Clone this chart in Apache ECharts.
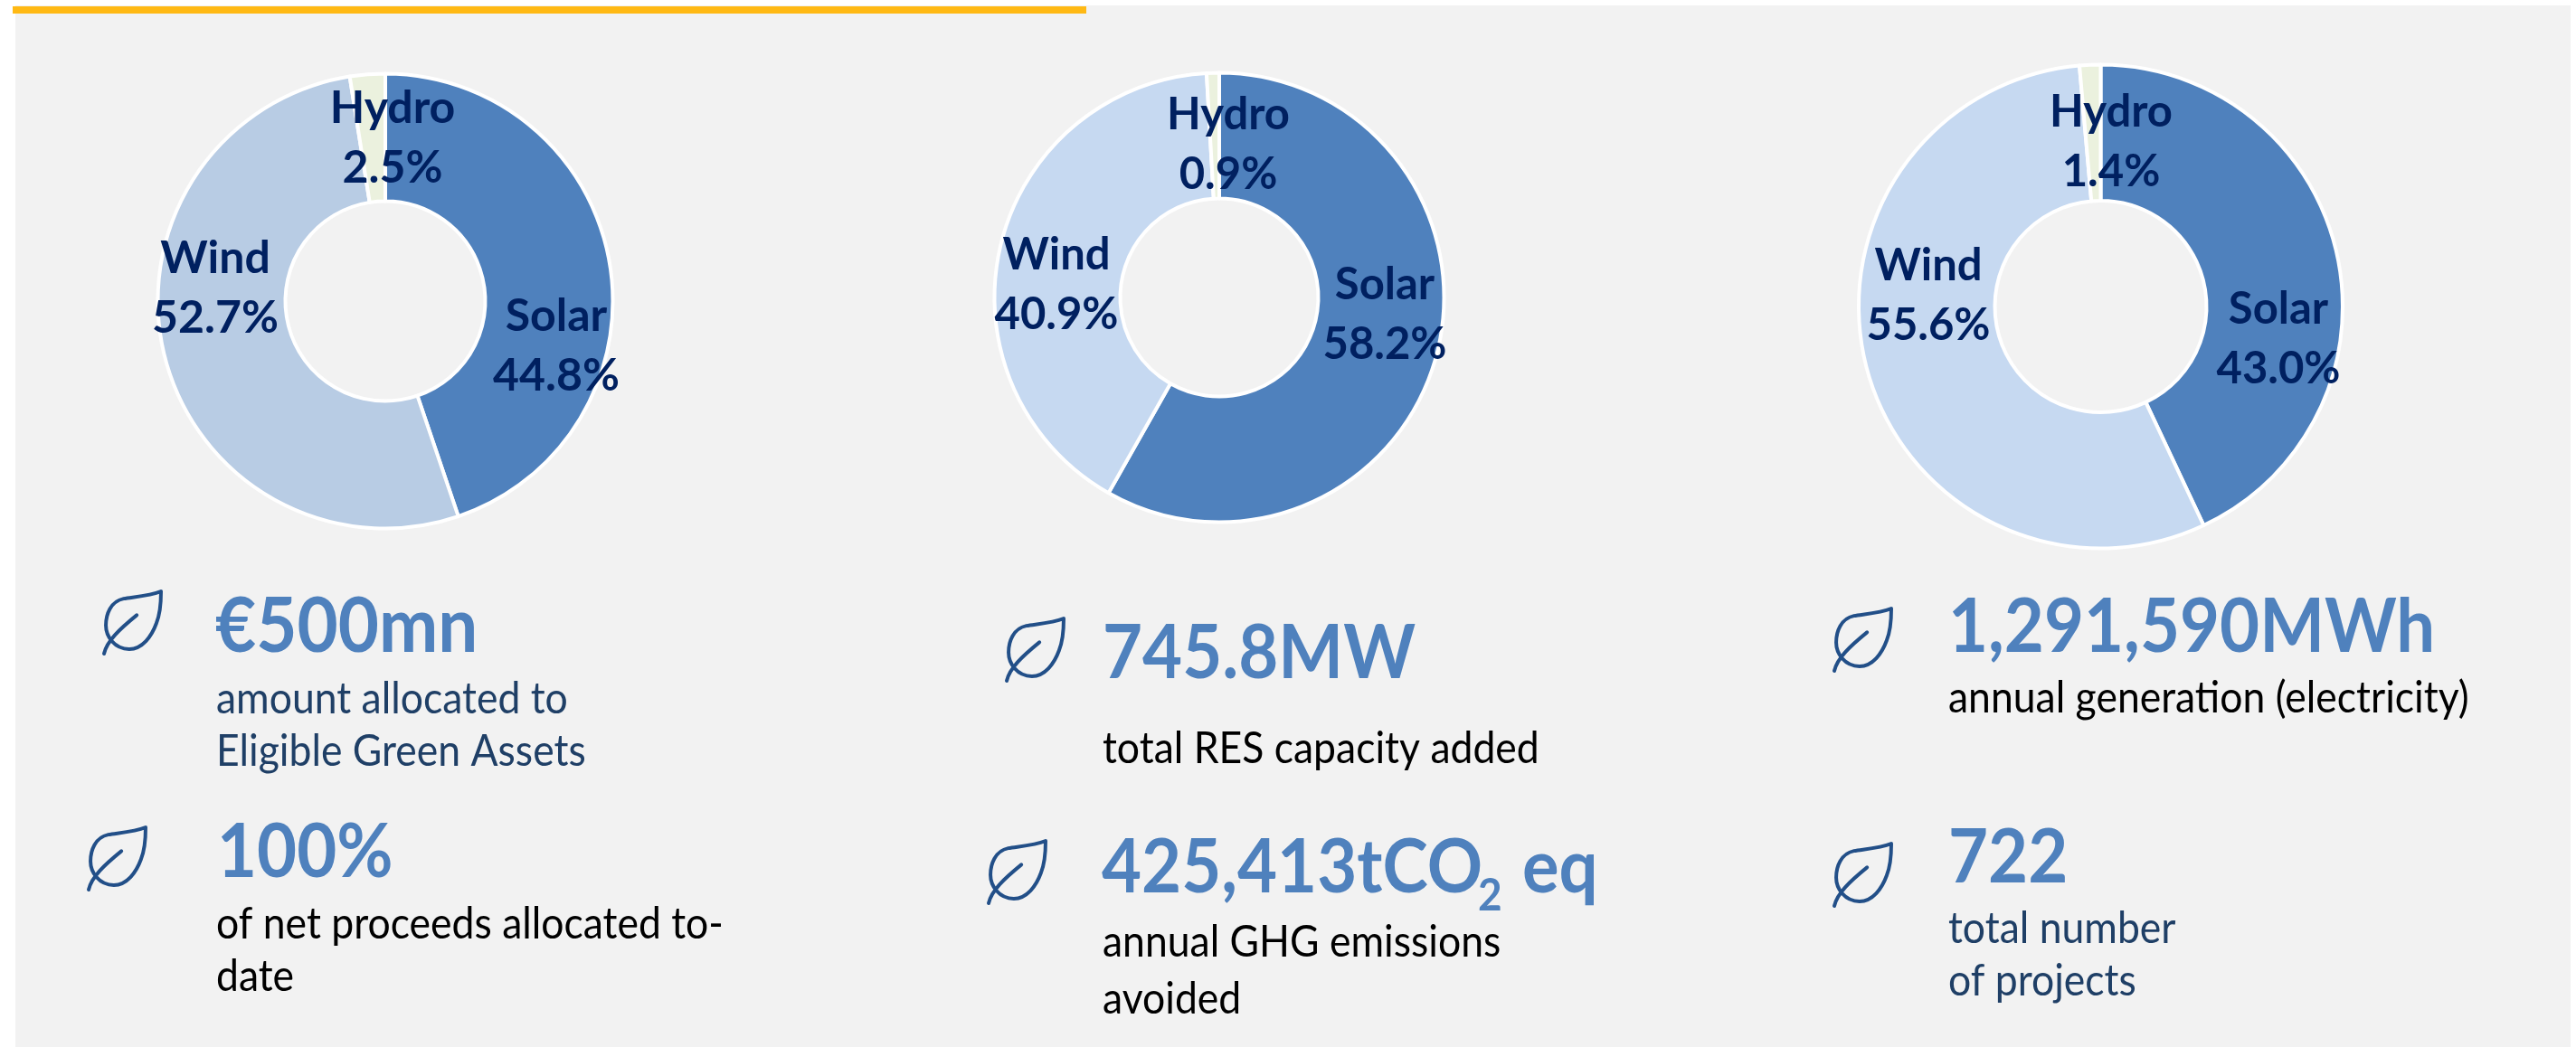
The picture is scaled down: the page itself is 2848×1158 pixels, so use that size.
<!DOCTYPE html>
<html>
<head>
<meta charset="utf-8">
<style>html,body{margin:0;padding:0;background:#fff}#c{width:2848px;height:1158px}</style>
<script src="https://cdn.jsdelivr.net/npm/echarts@6/dist/echarts.min.js"></script>
</head>
<body>
<div id="c"></div>
<script>
// ---- data ----
const categories = ['Solar', 'Wind', 'Hydro'];
const allocatedShare = [44.8, 52.7, 2.5];
const capacityShare = [58.2, 40.9, 0.9];
const generationShare = [43.0, 55.6, 1.4];

const statHeadlines = ['€500mn', '100%', '745.8MW', '425,413tCO', '1,291,590MWh', '722'];
const statDetails = [
  ['amount allocated to', 'Eligible Green Assets'],
  ['of net proceeds allocated to-', 'date'],
  ['total RES capacity added'],
  ['annual GHG emissions', 'avoided'],
  ['annual generation (electricity)'],
  ['total number', 'of projects']
];

// ---- layout & style ----
const FONT = 'Lato';
const BLUE = '#4f81bd', NAVY = '#002060', SUBNAVY = '#1f3f66', LEAF = '#224f88';
const pieLayouts = [
  { values: allocatedShare, center: [426, 333], radius: [110.5, 251.5], wind: '#b8cce4', labelSize: 50,
    labels: [[615, 383], [238, 319], [434, 153]] },
  { values: capacityShare, center: [1348, 329], radius: [109.5, 248.5], wind: '#c6d9f1', labelSize: 49,
    labels: [[1531, 348], [1168, 315], [1358, 160]] },
  { values: generationShare, center: [2322.5, 339], radius: [117, 267.5], wind: '#c6d9f1', labelSize: 49,
    labels: [[2519, 375], [2132, 327], [2334, 157]] }
];
const statLayouts = [
  { x: 238, base: 721, size: 78, detailX: 239, detailBases: [789, 847], detailColor: SUBNAVY },
  { x: 240, base: 970, size: 76, detailX: 239, detailBases: [1038, 1096], detailColor: '#000' },
  { x: 1219, base: 750, size: 76, detailX: 1219, detailBases: [844], detailColor: '#000' },
  { x: 1218, base: 987, size: 76, detailX: 1219, detailBases: [1058, 1121], detailColor: '#000' },
  { x: 2154, base: 721, size: 76, detailX: 2154, detailBases: [788], detailColor: '#000' },
  { x: 2154, base: 976, size: 76, detailX: 2154, detailBases: [1043, 1101], detailColor: SUBNAVY }
];
const leafOrigins = [[115, 654], [98, 915], [1113, 684], [1093, 930], [2028, 673], [2028, 933]];
const LEAF_PATH = 'M62 1C50 6 34 7 22 9C8 12 3 26 3 38C3 50 12 64 28 64C42 64 52 50 57 36C61 26 62 12 62 1ZM1 69C4 55 18 42 36 27';

const TEXT_STRETCH = 1.08; // the reference face is narrower and taller than Lato

function textEl(text, x, baseline, size, weight, color) {
  const toBase = size * 0.325;
  return {
    type: 'text', x: x, y: baseline - toBase, z: 5,
    scaleY: TEXT_STRETCH, originY: toBase,
    style: { text: text, fontFamily: FONT, fontSize: size, fontWeight: weight, fill: color,
             align: 'left', verticalAlign: 'middle' }
  };
}

const graphics = [
  { type: 'rect', z: 0, shape: { x: 17, y: 6, width: 2825, height: 1152 }, style: { fill: '#f2f2f2' } },
  { type: 'rect', z: 1, shape: { x: 14, y: 7, width: 1187, height: 8 }, style: { fill: '#ffb914' } }
];
statHeadlines.forEach(function (h, i) {
  const s = statLayouts[i];
  graphics.push(textEl(h, s.x, s.base, s.size, 700, BLUE));
  statDetails[i].forEach(function (line, j) {
    graphics.push(textEl(line, s.detailX, s.detailBases[j], 44.5, 400, s.detailColor));
  });
});
// subscript and the rest of the tCO2 eq headline
graphics.push(textEl('2', 1634, 1007, 46, 700, BLUE));
graphics.push(textEl('eq', 1683, 987, 76, 700, BLUE));

const series = pieLayouts.map(function (p) {
  return {
    type: 'pie',
    center: p.center,
    radius: p.radius,
    startAngle: 90,
    clockwise: true,
    avoidLabelOverlap: false,
    silent: true,
    data: categories.map(function (c, i) {
      return { name: c, value: p.values[i],
               itemStyle: { color: [BLUE, p.wind, '#ebf1de'][i] } };
    }),
    itemStyle: { borderColor: '#ffffff', borderWidth: 4 },
    labelLine: { show: false },
    label: {
      show: true, position: 'inside',
      formatter: function (d) { return d.name + '\n' + d.value.toFixed(1) + '%'; },
      fontFamily: FONT, fontWeight: 700, fontSize: p.labelSize, lineHeight: 66,
      color: NAVY, align: 'center', verticalAlign: 'middle'
    },
    labelLayout: function (params) {
      const pos = p.labels[params.dataIndex];
      return { x: pos[0], y: pos[1], align: 'center', verticalAlign: 'middle' };
    }
  };
});
series.push({
  type: 'custom',
  coordinateSystem: 'none',
  silent: true,
  z: 5,
  data: leafOrigins,
  renderItem: function (params) {
    const o = leafOrigins[params.dataIndex];
    return {
      type: 'path',
      shape: { pathData: LEAF_PATH, layout: 'cover', x: o[0], y: o[1], width: 63, height: 69 },
      style: { fill: 'none', stroke: LEAF, lineWidth: 4, lineCap: 'round', lineJoin: 'round' }
    };
  }
});

const chart = echarts.init(document.getElementById('c'), null, { renderer: 'canvas' });
chart.setOption({ animation: false, backgroundColor: '#ffffff', graphic: graphics, series: series });
</script>
</body>
</html>
